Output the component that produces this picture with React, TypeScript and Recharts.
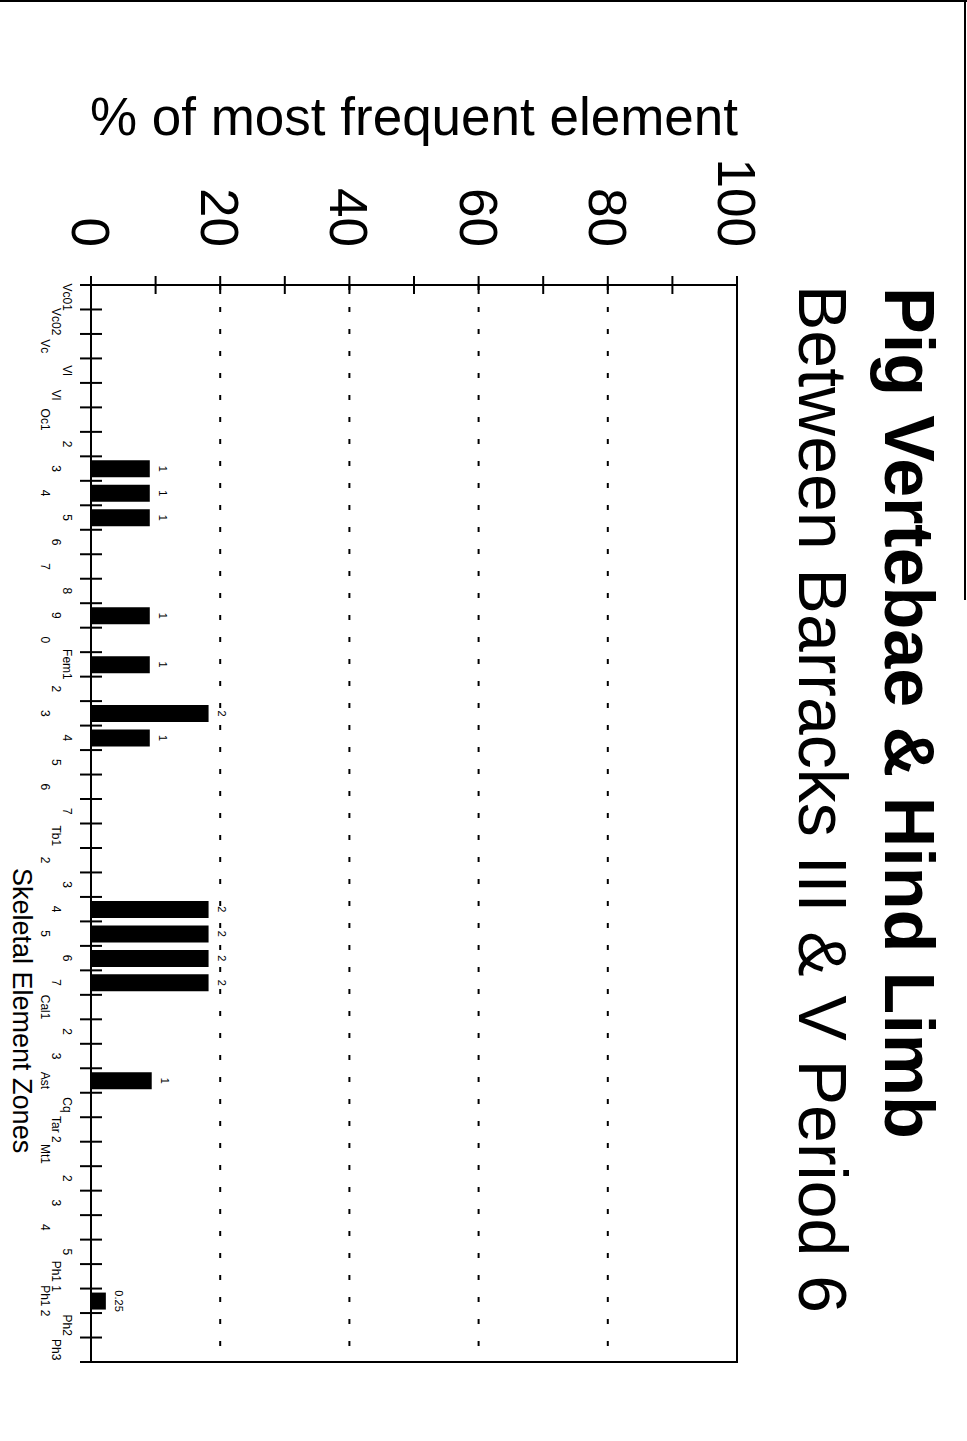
import { BarChart, Bar, XAxis, YAxis, ReferenceLine, ReferenceArea, LabelList } from "recharts";

// skeletal element zones, in axis order
const zones = [
    "Vc01", "Vc02", "Vc", "Vl", "Vl", "Oc1",
    "2", "3", "4", "5", "6", "7", "8", "9", "0",
    "Fem1", "2", "3", "4", "5", "6", "7",
    "Tb1", "2", "3", "4", "5", "6", "7",
    "Cal1", "2", "3", "Ast", "Cq", "Tar 2",
    "Mt1", "2", "3", "4", "5",
    "Ph1 1", "Ph1 2", "Ph2", "Ph3",
];

// % of most frequent element
const pctOfMax = [
    null, null, null, null, null, null,
    null, 9.1, 9.1, 9.1, null, null, null, 9.1, null,
    9.1, null, 18.2, 9.1, null, null, null,
    null, null, null, 18.2, 18.2, 18.2, 18.2,
    null, null, null, 9.4, null, null,
    null, null, null, null, null,
    null, 2.3, null, null,
];

// counts printed beside the bars
const countLabels = [
    "", "", "", "", "", "",
    "", "1", "1", "1", "", "", "", "1", "",
    "1", "", "2", "1", "", "", "",
    "", "", "", "2", "2", "2", "2",
    "", "", "", "1", "", "",
    "", "", "", "", "",
    "", "0.25", "", "",
];

const valueTicks = [0, 10, 20, 30, 40, 50, 60, 70, 80, 90, 100];
const gridValues = [20, 40, 60, 80];

const data = zones.map((zone, i) => ({ zone, pct: pctOfMax[i], count: countLabels[i] }));

// chart is drawn upright then turned 90deg clockwise onto the page
const W = 1441;
const H = 967;
const PLOT_LEFT = 285;
const PLOT_RIGHT = 1362;
const PLOT_TOP = 230;
const PLOT_BOTTOM = 876;
const BAND = (PLOT_RIGHT - PLOT_LEFT) / zones.length;
const FONT = '"Liberation Sans", Arial, Helvetica, sans-serif';

function ValueTick({ y, payload }: any) {
    const v = payload.value;
    return (
        <g>
            <line x1={PLOT_LEFT - 9} x2={PLOT_LEFT + 9} y1={y} y2={y} stroke="#000" strokeWidth={2} />
            {v % 20 === 0 && (
                <text x={PLOT_LEFT - 38} y={y} dy="0.36em" textAnchor="end" fontSize={53} fontFamily={FONT} fill="#000">
                    {v}
                </text>
            )}
        </g>
    );
}

// labels are staggered over three rows
function ZoneTick({ x, index }: any) {
    const row = index % 3;
    const edge = x - BAND / 2;
    return (
        <g>
            <line x1={edge} x2={edge} y1={PLOT_BOTTOM - 11} y2={PLOT_BOTTOM + 11} stroke="#000" strokeWidth={2} />
            {index === zones.length - 1 && (
                <line x1={x + BAND / 2} x2={x + BAND / 2} y1={PLOT_BOTTOM - 11} y2={PLOT_BOTTOM + 11} stroke="#000" strokeWidth={2} />
            )}
            <text x={x} y={PLOT_BOTTOM + 24 + row * 11} dy="0.35em" textAnchor="middle" fontSize={12} fontFamily={FONT} fill="#000">
                {zones[index]}
            </text>
        </g>
    );
}

export default function App() {
    return (
        <>
            <style>{`body{margin:0;overflow:hidden;background:#fff}`}</style>
            {/* scan frame edges */}
            <div style={{ position: "absolute", left: 0, top: 0, width: 967, height: 2, background: "#000" }} />
            <div style={{ position: "absolute", left: 964, top: 0, width: 2, height: 600, background: "#000" }} />

            <div
                style={{
                    position: "absolute",
                    left: 0,
                    top: 0,
                    width: W,
                    height: H,
                    transformOrigin: "0 0",
                    transform: `translateX(${H}px) rotate(90deg)`,
                }}
            >
                <BarChart
                    width={W}
                    height={H}
                    data={data}
                    margin={{ top: PLOT_TOP, right: W - PLOT_RIGHT, bottom: H - PLOT_BOTTOM - 60, left: PLOT_LEFT - 60 }}
                    barSize={17}
                >
                    <XAxis
                        dataKey="zone"
                        height={60}
                        interval={0}
                        tickLine={false}
                        axisLine={{ stroke: "#000", strokeWidth: 2 }}
                        tick={<ZoneTick />}
                    />
                    <YAxis
                        width={60}
                        type="number"
                        domain={[0, 100]}
                        ticks={valueTicks}
                        interval={0}
                        tickLine={false}
                        axisLine={{ stroke: "#000", strokeWidth: 2 }}
                        tick={<ValueTick />}
                    />
                    {gridValues.map((v) => (
                        <ReferenceLine key={v} y={v} stroke="#000" strokeWidth={2} strokeDasharray="5 17" />
                    ))}
                    <ReferenceArea y1={0} y2={100} fill="none" stroke="#000" strokeWidth={2} />
                    <Bar dataKey="pct" fill="#000" isAnimationActive={false}>
                        <LabelList
                            dataKey="count"
                            position="top"
                            offset={9}
                            fontSize={11}
                            fontFamily={FONT}
                            fill="#000"
                        />
                    </Bar>
                </BarChart>

                <svg
                    width={W}
                    height={H}
                    style={{ position: "absolute", left: 0, top: 0, pointerEvents: "none", overflow: "visible" }}
                    fontFamily={FONT}
                >
                    <text x={PLOT_LEFT + 2} y={82} fontSize={70} fontWeight="bold" fill="#000">
                        Pig Vertebae &amp; Hind Limb
                    </text>
                    <text x={PLOT_LEFT} y={168} fontSize={68} fill="#000">
                        Between Barracks III &amp; V Period 6
                    </text>
                    <text
                        x={135}
                        y={(PLOT_TOP + PLOT_BOTTOM) / 2}
                        transform={`rotate(-90, 135, ${(PLOT_TOP + PLOT_BOTTOM) / 2})`}
                        textAnchor="middle"
                        fontSize={53}
                        fill="#000"
                    >
                        % of most frequent element
                    </text>
                    <text x={868} y={954} fontSize={27} fill="#000">
                        Skeletal Element Zones
                    </text>
                </svg>
            </div>
        </>
    );
}
